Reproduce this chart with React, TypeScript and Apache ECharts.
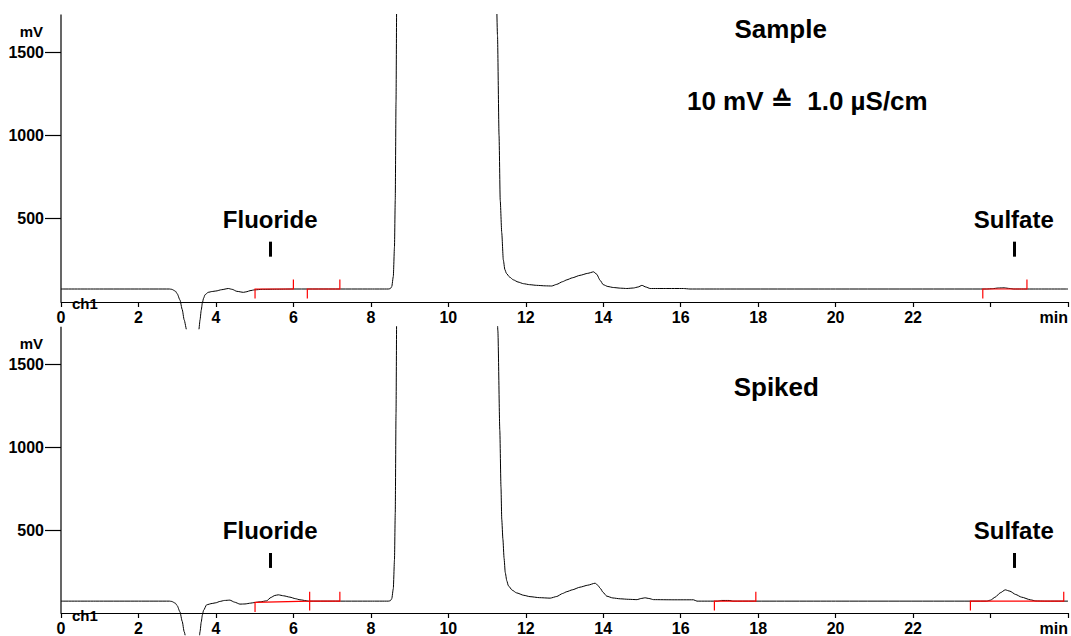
import React, { useEffect, useRef } from "react";
import * as echarts from "echarts";

// ---- data (minutes, mV) ----
const sampleTrace: [number, number][] = [
  [0, 78], [1, 78], [2, 78], [2.8, 78], [2.86, 76], [2.95, 66], [3.0, 50], [3.07, 13], [3.13, -45],
  [3.18, -107], [3.25, -175], [3.32, -260], [3.4, -300], [3.48, -260], [3.53, -200], [3.56, -165],
  [3.59, -107], [3.62, -50], [3.65, -6], [3.68, 22], [3.72, 44], [3.8, 58], [3.9, 63], [4.0, 66],
  [4.15, 74], [4.32, 81], [4.42, 76], [4.54, 64], [4.71, 58], [4.8, 62], [4.88, 68], [5.0, 73],
  [5.2, 76], [5.6, 77], [6.0, 78], [7, 78], [8, 78], [8.45, 78], [8.5, 80], [8.54, 92], [8.58, 153],
  [8.61, 330], [8.63, 612], [8.65, 1200], [8.67, 1900], [8.72, 2700], [9.0, 3600], [10, 4000],
  [10.8, 3700], [11.1, 2900], [11.22, 2100], [11.27, 1600], [11.31, 1000], [11.34, 612], [11.38, 415],
  [11.42, 253], [11.46, 195], [11.5, 172], [11.58, 150], [11.68, 133], [11.8, 120], [11.94, 110],
  [12.1, 104], [12.28, 100], [12.5, 97], [12.67, 96], [12.8, 106], [12.95, 122], [13.06, 133],
  [13.2, 145], [13.4, 160], [13.6, 172], [13.75, 181], [13.83, 167], [13.92, 130], [14.0, 104],
  [14.12, 93], [14.26, 87], [14.45, 83], [14.61, 81], [14.78, 84], [14.9, 90], [15.0, 100],
  [15.1, 90], [15.21, 81], [15.6, 81], [16.07, 81], [16.24, 78], [17, 78], [20, 78], [23.9, 78],
  [24.05, 80], [24.2, 84], [24.35, 85], [24.5, 81], [24.6, 78], [25, 78], [26, 78],
];

const spikedTrace: [number, number][] = [
  [0, 72], [1, 72], [2, 72], [2.8, 72], [2.86, 70], [2.95, 60], [3.0, 45], [3.07, 8], [3.13, -50],
  [3.18, -112], [3.25, -180], [3.32, -260], [3.4, -300], [3.48, -260], [3.53, -200], [3.56, -170],
  [3.59, -112], [3.62, -55], [3.65, -12], [3.68, 16], [3.76, 50], [3.9, 58], [4.0, 62], [4.1, 70],
  [4.22, 76], [4.36, 78], [4.48, 66], [4.62, 54], [4.75, 55], [4.9, 60], [4.98, 63], [5.15, 68],
  [5.31, 74], [5.42, 94], [5.52, 106], [5.61, 110], [5.75, 104], [5.91, 96], [6.05, 87], [6.17, 80],
  [6.4, 72], [7, 72], [8, 72], [8.45, 72], [8.5, 74], [8.54, 86], [8.58, 147], [8.61, 320],
  [8.63, 600], [8.65, 1200], [8.67, 1900], [8.72, 2700], [9.0, 3600], [10, 4000], [10.8, 3700],
  [11.1, 2900], [11.22, 2200], [11.28, 1700], [11.33, 1100], [11.36, 760], [11.38, 565],
  [11.41, 445], [11.44, 330], [11.47, 245], [11.51, 195], [11.55, 165], [11.65, 138], [11.76, 122],
  [11.95, 107], [12.11, 99], [12.35, 93], [12.63, 90], [12.8, 100], [12.95, 118], [13.06, 129],
  [13.2, 140], [13.4, 156], [13.6, 168], [13.79, 180], [13.86, 168], [13.92, 150], [14.0, 124],
  [14.09, 102], [14.25, 91], [14.44, 86], [14.65, 83], [14.87, 81], [14.98, 88], [15.08, 92],
  [15.18, 88], [15.3, 81], [15.8, 80], [16.33, 80], [16.42, 72], [16.95, 72], [17.05, 76],
  [17.25, 76], [17.35, 72], [20, 72], [23.9, 72], [24.0, 78], [24.12, 96], [24.25, 122],
  [24.38, 140], [24.5, 132], [24.65, 112], [24.8, 96], [25.03, 80], [25.17, 73], [25.4, 72], [26, 72],
];

// integration marks: [start min, end min, start mV, end mV]
const sampleIntegrations: [number, number, number, number][] = [
  [5.01, 6.0, 78, 78],
  [6.36, 7.2, 78, 78],
  [23.8, 24.94, 78, 78],
];
const spikedIntegrations: [number, number, number, number][] = [
  [5.01, 6.42, 64, 72],
  [6.42, 7.2, 72, 72],
  [16.87, 17.94, 72, 72],
  [23.48, 25.89, 72, 72],
];

// peak labels: [name, retention time]
const peakLabels: [string, number][] = [
  ["Fluoride", 5.4],
  ["Sulfate", 24.6],
];

const yTickValues = [500, 1000, 1500];
const xMin = 0;
const xMax = 26;
const xStep = 2;
const yMax = 1725;
const yMins = [-160, -130]; // lower edge of each panel (below the 0 line)

const FONT = '"Liberation Sans", Arial, Helvetica, sans-serif';
const TICK_MV = 57;
const PX_PER_MV = 0.16667;
const GRID_TOPS = [14.5, 326.7];

function integrationPolylines(segs: [number, number, number, number][]) {
  return segs.map(([x0, x1, y0, y1]) => ({
    coords: [
      [x0, y0 - TICK_MV],
      [x0, y0],
      [x1, y1],
      [x1, y1 + TICK_MV],
    ],
  }));
}

function labelBars() {
  return peakLabels.map(([, t]) => [{ coord: [t, 272] }, { coord: [t, 362] }]);
}

function panelSeries(idx: number, data: [number, number][], segs: [number, number, number, number][]) {
  return [
    {
      type: "line",
      xAxisIndex: idx,
      yAxisIndex: idx,
      data,
      z: 2,
      showSymbol: false,
      symbol: "none",
      clip: true,
      smooth: 0.2,
      smoothMonotone: "x",
      lineStyle: { color: "#000", width: 1 },
      silent: true,
      markLine: {
        silent: true,
        symbol: ["none", "none"],
        label: { show: false },
        emphasis: { disabled: true },
        lineStyle: { type: "solid", color: "#000", width: 3 },
        data: labelBars(),
      },
      markPoint: {
        silent: true,
        symbol: "circle",
        symbolSize: 0,
        itemStyle: { color: "rgba(0,0,0,0)" },
        label: {
          show: true,
          position: "inside",
          color: "#000",
          fontFamily: FONT,
          fontWeight: "bold",
          fontSize: 24,
        },
        data: peakLabels.map(([name, t]) => ({
          coord: [t, 498],
          label: { formatter: name },
        })),
      },
    },
    {
      type: "lines",
      coordinateSystem: "cartesian2d",
      xAxisIndex: idx,
      yAxisIndex: idx,
      polyline: true,
      z: 6,
      silent: true,
      lineStyle: { color: "#ff0000", width: 1.2, opacity: 1, type: "solid" },
      data: integrationPolylines(segs),
    },
  ];
}

function xAxis(idx: number) {
  return {
    type: "value",
    gridIndex: idx,
    min: xMin,
    max: xMax,
    interval: xStep,
    offset: yMins[idx] * PX_PER_MV,
    axisLine: { onZero: false, lineStyle: { color: "#000", width: 1.2 } },
    axisTick: { show: true, length: 5, lineStyle: { color: "#000", width: 1.2 } },
    splitLine: { show: false },
    axisLabel: {
      color: "#000",
      fontFamily: FONT,
      fontWeight: "bold",
      fontSize: 16,
      margin: 7,
      alignMaxLabel: "right",
      formatter: (v: number) => (v === xMax ? "min" : v === xMax - xStep ? "" : String(v)),
    },
  };
}

function yAxis(idx: number) {
  return {
    type: "value",
    gridIndex: idx,
    min: yMins[idx],
    max: yMax,
    splitNumber: 4,
    axisLine: { show: false, onZero: false },
    axisTick: {
      show: true,
      length: 16,
      customValues: yTickValues,
      lineStyle: { color: "#000", width: 1.2 },
    },
    splitLine: { show: false },
    axisLabel: {
      show: true,
      color: "#000",
      fontFamily: FONT,
      fontWeight: "bold",
      fontSize: 16,
      margin: 17,
      formatter: (v: number) => (yTickValues.indexOf(Math.round(v)) >= 0 ? String(Math.round(v)) : ""),
    },
  };
}

function text(x: number, y: number, t: string, size: number, align: string = "center") {
  return {
    type: "text",
    x,
    y,
    silent: true,
    z: 10,
    style: {
      text: t,
      fill: "#000",
      font: `bold ${size}px ${FONT}`,
      align,
      verticalAlign: "middle",
      textAlign: align,
      textVerticalAlign: "middle",
    },
  };
}

export default function App() {
  const ref = useRef<HTMLDivElement>(null);
  useEffect(() => {
    document.body.style.margin = "0";
    if (!ref.current) return;
    const chart = echarts.init(ref.current, null, { renderer: "svg" });
    chart.setOption({
      animation: false,
      backgroundColor: "#fff",
      grid: GRID_TOPS.map((top, i) => ({
        left: 61,
        right: 3,
        top,
        height: (yMax - yMins[i]) * PX_PER_MV,
      })),
      xAxis: [xAxis(0), xAxis(1)],
      yAxis: [yAxis(0), yAxis(1)],
      series: [
        ...panelSeries(0, sampleTrace, sampleIntegrations),
        ...panelSeries(1, spikedTrace, spikedIntegrations),
      ],
    });
    // y-axis lines from 0 up to the top of each panel
    const axisLines = [0, 1].map((g) => {
      const p0 = chart.convertToPixel({ gridIndex: g } as any, [xMin, 0]) as number[];
      const p1 = chart.convertToPixel({ gridIndex: g } as any, [xMin, yMax]) as number[];
      return {
        type: "line",
        silent: true,
        z: 3,
        shape: { x1: p0[0], y1: p0[1], x2: p1[0], y2: p1[1] },
        style: { stroke: "#000", lineWidth: 1.2 },
      };
    });
    chart.setOption({
      graphic: [
        ...axisLines,
        text(31.3, 31.3, "mV", 15),
        text(31.3, 343.5, "mV", 15),
        text(72, 303, "ch1", 15, "left"),
        text(72, 615.3, "ch1", 15, "left"),
        text(780.7, 28.7, "Sample", 26),
        text(807.3, 101.3, "10 mV \u2259  1.0 \u00b5S/cm", 26),
        text(776.3, 386.7, "Spiked", 26),
      ],
    });
    return () => chart.dispose();
  }, []);
  return <div ref={ref} style={{ width: 1071, height: 636 }} />;
}
